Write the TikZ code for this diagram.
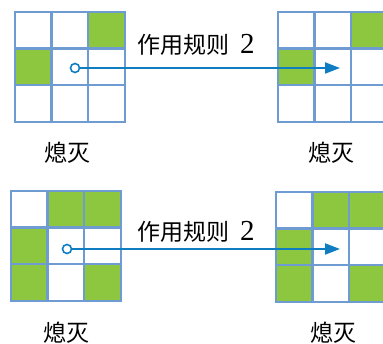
\documentclass[tikz,border=0pt]{standalone}
\usepackage{fontspec}
\setmainfont{Liberation Serif}
\newfontfamily\cjk{Noto Sans CJK SC}
\usetikzlibrary{arrows.meta}
\definecolor{gridblue}{HTML}{6E9BD2}
\definecolor{cellgreen}{HTML}{8DC63F}
\definecolor{arrowblue}{HTML}{0E7DC2}
\begin{document}
\begin{tikzpicture}[x=1pt,y=-1pt,
    cell/.style={rectangle,draw=gridblue,line width=2.4pt,fill=white,minimum size=36.6pt,inner sep=0pt},
    lit/.style={cell,fill=cellgreen},
    dot/.style={circle,draw=arrowblue,line width=1.6pt,fill=white,minimum size=9pt,inner sep=0pt},
    flow/.style={draw=arrowblue,line width=2pt,-{Triangle[length=15pt,width=11pt]}},
    caption/.style={font=\fontsize{23}{27}\selectfont,inner sep=0pt}]
  \clip (0,0) rectangle (383,344);
  \foreach \g/\x/\y in {tl/15/12,tr/278/12,bl/11/191,br/276/192}
    \foreach \r in {0,1,2}
      \foreach \c in {0,1,2}
        \node[cell] (\g-\r-\c) at (\x+18.3+36.6*\c,\y+18.3+36.6*\r) {};
  \foreach \g/\r/\c in {tl/0/2,tl/1/0,tr/0/2,tr/1/0,
                        bl/0/1,bl/0/2,bl/1/0,bl/2/0,bl/2/2,
                        br/0/1,br/0/2,br/1/0,br/2/0,br/2/2}
    \node[lit] (\g-\r-\c-on) at (\g-\r-\c) {};
  % rule arrows
  \node[dot] (tstart) at (75,68) {};
  \coordinate (tend) at (340,68);
  \draw[flow] (tstart) -- (tend);
  \node[dot] (bstart) at (67,249) {};
  \coordinate (bend) at (340,249);
  \draw[flow] (bstart) -- (bend);
  \node[caption,anchor=west] (trule) at (137,45) {{\cjk 作用规则}\hspace{11pt}{\fontsize{29}{30}\selectfont 2}};
  \node[caption,anchor=west] (brule) at (137,232) {{\cjk 作用规则}\hspace{11pt}{\fontsize{29}{30}\selectfont 2}};
  \node[caption] (tlname) at (67,153) {\cjk 熄灭};
  \node[caption] (trname) at (331,153) {\cjk 熄灭};
  \node[caption] (blname) at (66,333) {\cjk 熄灭};
  \node[caption] (brname) at (333,333) {\cjk 熄灭};
\end{tikzpicture}
\end{document}
